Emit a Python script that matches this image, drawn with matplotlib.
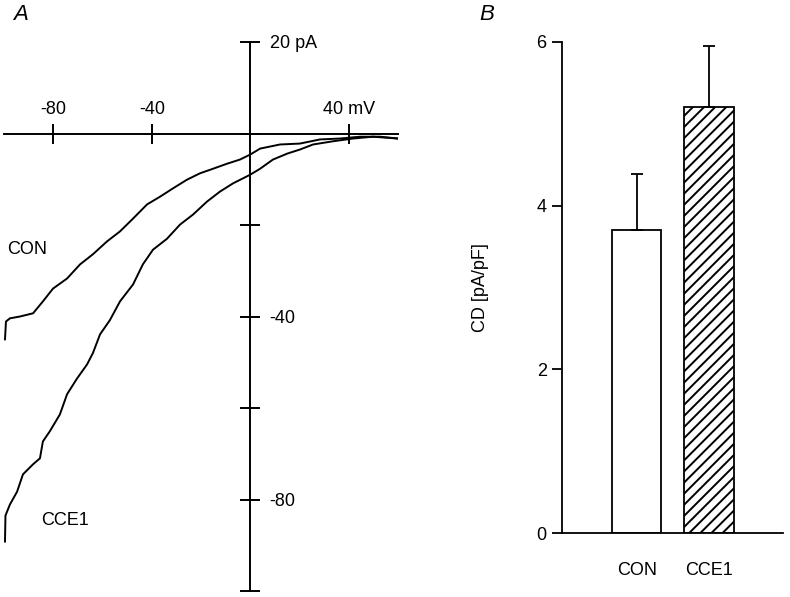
import matplotlib
matplotlib.use("Agg")
import matplotlib.pyplot as plt

plt.rcParams['font.family'] = ['Liberation Sans', 'DejaVu Sans']
plt.rcParams['axes.unicode_minus'] = False
plt.rcParams['hatch.linewidth'] = 1.4

# --- Panel A: I-V traces (mV, pA) ---
con_v = [-99.6, -99.2, -97.6, -93.5, -88.2, -84.2, -80.1, -74.4, -69.1, -63.9,
         -58.2, -52.9, -47.6, -41.9, -36.6, -31.4, -25.7, -20.4, -15.1, -9.4,
         -4.2, 0.0, 4.0, 12.1, 20.2, 28.3, 36.4, 44.6, 52.7, 60.0]
con_i = [-45.0, -41.1, -40.4, -40.0, -39.3, -36.7, -33.9, -31.7, -28.6, -26.4,
         -23.6, -21.4, -18.6, -15.5, -13.8, -12.0, -10.1, -8.7, -7.7, -6.6,
         -5.7, -4.6, -3.3, -2.4, -2.2, -1.3, -1.1, -0.7, -0.7, -1.1]

cce1_v = [-99.6, -99.4, -97.6, -94.7, -92.3, -88.2, -85.4, -84.2, -81.4, -77.3,
          -74.4, -70.4, -66.3, -63.9, -61.0, -57.0, -52.9, -47.6, -43.6, -39.5,
          -33.8, -28.5, -23.2, -17.6, -12.3, -7.0, 0.0, 4.0, 9.2, 15.0,
          20.2, 25.5, 33.6, 41.7, 49.8, 60.0]
cce1_i = [-89.2, -83.5, -81.1, -78.3, -74.5, -72.3, -71.0, -67.3, -65.1, -61.4,
          -57.0, -53.6, -50.5, -48.0, -43.9, -40.8, -36.7, -33.0, -28.6, -25.4,
          -23.0, -19.9, -17.7, -14.9, -12.7, -10.9, -9.0, -7.7, -5.7, -4.4,
          -3.5, -2.4, -1.7, -1.1, -0.7, -1.1]

v_ticks = [-80, -40, 40]
v_labels = ['-80', '-40', '40 mV']
i_ticks = [-100, -80, -60, -40, -20, 0, 20]
i_labels = ['', '-80', '', '-40', '', '', '20 pA']

# --- Panel B: current density ---
groups = ['CON', 'CCE1']
cd_mean = [3.70, 5.21]
cd_sem = [0.69, 0.74]

fig = plt.figure(figsize=(7.9, 5.97), dpi=100)

# Panel A: axes crossing at the origin
axA = fig.add_axes([4 / 790, 6 / 597, 394 / 790, 549 / 597])
axA.plot(con_v, con_i, color='black', lw=1.4)
axA.plot(cce1_v, cce1_i, color='black', lw=1.4)
axA.set_xlim(-100, 60)
axA.set_ylim(-100, 20)
axA.patch.set_visible(False)
axA.spines['left'].set_visible(False)
axA.spines['bottom'].set_visible(False)
axA.spines['right'].set_position(('data', 0))
axA.spines['top'].set_position(('data', 0))
for s in ('right', 'top'):
    axA.spines[s].set_linewidth(1.4)
axA.xaxis.tick_top()
axA.yaxis.tick_right()
axA.set_xticks(v_ticks)
axA.set_xticklabels(v_labels)
axA.set_yticks(i_ticks)
axA.set_yticklabels(i_labels)
axA.tick_params(axis='x', direction='inout', length=15, width=1.4, pad=4, labelsize=13)
axA.tick_params(axis='y', direction='inout', length=14, width=1.4, pad=7, labelsize=13)
axA.text(-98.7, -25.4, 'CON', fontsize=13, va='center', ha='left')
axA.text(-84.9, -84.6, 'CCE1', fontsize=13, va='center', ha='left')

# Panel B: bar chart with upper error bars
axB = fig.add_axes([562 / 790, 64 / 597, 221 / 790, 491 / 597])
xpos = [1, 2]
axB.bar(xpos, cd_mean, width=0.68, color='white', edgecolor='black', linewidth=1.3,
        hatch=['', '///'], zorder=2)
axB.errorbar(xpos, cd_mean, yerr=[[0, 0], cd_sem], fmt='none', ecolor='black',
             elinewidth=1.3, capsize=4.5, capthick=1.3, zorder=3)
axB.set_xlim(-0.03, 3.02)
axB.set_ylim(0, 6)
axB.set_yticks([0, 2, 4, 6])
axB.set_xticks(xpos)
axB.set_xticklabels(groups)
for s in ('top', 'right'):
    axB.spines[s].set_visible(False)
for s in ('left', 'bottom'):
    axB.spines[s].set_linewidth(1.3)
axB.tick_params(axis='y', direction='out', length=7, width=1.3, pad=4, labelsize=13)
axB.tick_params(axis='x', length=0, pad=21, labelsize=13)
axB.set_ylabel('CD [pA/pF]', fontsize=13)
axB.yaxis.set_label_coords(-0.33, 0.5)

fig.text(13 / 790, 1 - 15 / 597, 'A', fontsize=16, style='italic', va='center', ha='left')
fig.text(479 / 790, 1 - 14 / 597, 'B', fontsize=16, style='italic', va='center', ha='left')

fig.savefig('out.png', dpi=100)
